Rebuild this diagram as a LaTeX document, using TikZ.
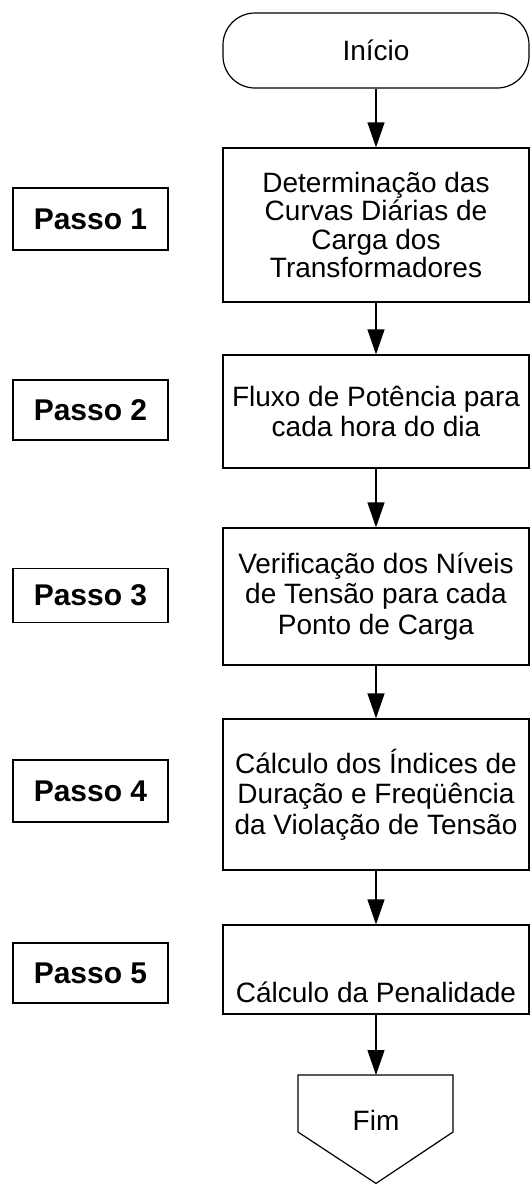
\documentclass[tikz,border=0pt]{standalone}
\usepackage{fontspec}
\setmainfont{Liberation Sans}
\usetikzlibrary{arrows.meta}
\begin{document}
\begin{tikzpicture}[x=1pt,y=-1pt, line width=1.2pt,
  box/.style={draw, minimum width=306pt, align=center, inner sep=0pt,
              font=\fontsize{28}{30.5}\selectfont},
  passo/.style={draw, minimum width=155pt, inner sep=0pt,
              font=\fontsize{30}{32}\selectfont\bfseries},
  arr/.style={-{Triangle[length=25pt,width=17pt]}}]
\useasboundingbox (0,0) rectangle (530,1184);

% flow boxes
\node[box, minimum height=75pt, rounded corners=32pt] (start) at (376,50.5) {Início};
\node[box, minimum height=154pt, font=\fontsize{28}{28.5}\selectfont] (b1) at (376,225)
  {Determinação das\\Curvas Diárias de\\Carga dos\\Transformadores};
\node[box, minimum height=113pt] (b2) at (376,411.5)
  {Fluxo de Potência para\\cada hora do dia};
\node[box, minimum height=137pt] (b3) at (376,596.5)
  {Verificação dos Níveis\\de Tensão para cada\\Ponto de Carga};
\node[box, minimum height=151pt] (b4) at (376,794.5)
  {Cálculo dos Índices de\\Duração e Freqüência\\da Violação de Tensão};
\node[box, minimum height=89pt] (b5) at (376,969.5) {};
\node[font=\fontsize{28}{30}\selectfont, anchor=base, inner sep=0pt] (b5t) at (376,1002)
  {Cálculo da Penalidade};

% end shape
\coordinate (fimtop) at (376,1075);
\draw (298,1075) -- (453,1075) -- (453,1132) -- (376,1183.4) -- (298,1132) -- cycle;
\node[font=\fontsize{28}{30}\selectfont, anchor=base, inner sep=0pt] (fim) at (376,1130) {Fim};

% connectors
\draw[arr] (start.south) -- (b1.north);
\draw[arr] (b1.south) -- (b2.north);
\draw[arr] (b2.south) -- (b3.north);
\draw[arr] (b3.south) -- (b4.north);
\draw[arr] (b4.south) -- (b5.north);
\draw[arr] (b5.south) -- (fimtop);

% step labels
\node[passo, minimum height=62pt] (p1) at (90.5,219) {Passo 1};
\node[passo, minimum height=60pt] (p2) at (90.5,410) {Passo 2};
\node[passo, minimum height=54pt] (p3) at (90.5,595.5) {Passo 3};
\node[passo, minimum height=62pt] (p4) at (90.5,791) {Passo 4};
\node[passo, minimum height=60pt] (p5) at (90.5,973) {Passo 5};
\end{tikzpicture}
\end{document}
